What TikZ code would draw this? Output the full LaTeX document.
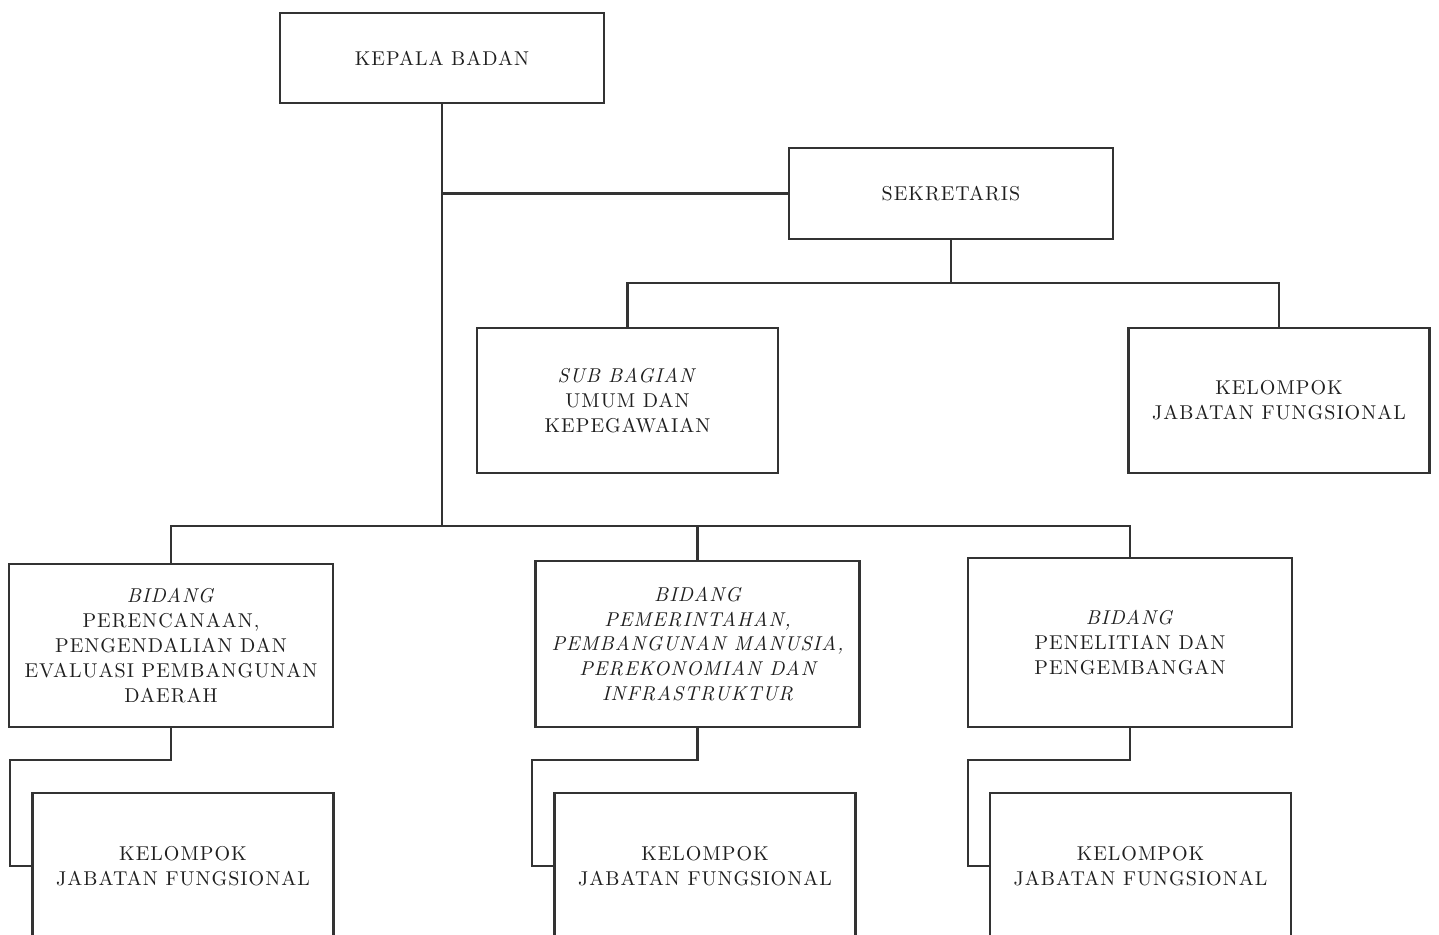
\documentclass[tikz,border=0pt]{standalone}
\usepackage{fontspec}
\setmainfont{lmroman10-regular.otf}[ItalicFont=lmroman10-italic.otf, LetterSpace=5]
\tikzset{
  unit/.style={draw=black!80, line width=1.3pt, align=center, inner sep=0pt,
    outer sep=0pt, text=black!88, font=\fontsize{11.4}{14.2}\selectfont},
  wide/.style={unit, minimum width=6.48cm},
  narrow/.style={unit, minimum width=6.02cm},
  link/.style={draw=black!80, line width=1.3pt}
}
\begin{document}
\begin{tikzpicture}[x=0.02cm, y=-0.02cm]
    \useasboundingbox (0,0) rectangle (1439,934);
    \clip (0,0) rectangle (1439,934);
    % head and secretary
    \node[wide, minimum height=1.8cm] (kepala) at (442,58) {KEPALA BADAN};
    \node[wide, minimum height=1.82cm] (sek) at (951,193.5) {SEKRETARIS};
    \node[narrow, minimum height=2.9cm] (sub) at (627.5,400.5)
        {\textit{SUB BAGIAN}\\UMUM DAN\\KEPEGAWAIAN};
    \node[narrow, minimum height=2.9cm] (kjfS) at (1279,400.5)
        {KELOMPOK\\JABATAN FUNGSIONAL};
    % bidang
    \node[wide, minimum height=3.26cm] (bidA) at (171,645.5)
        {\textit{BIDANG}\\PERENCANAAN,\\PENGENDALIAN DAN\\EVALUASI PEMBANGUNAN\\DAERAH};
    \node[wide, minimum height=3.32cm, font=\fontsize{11.4}{14.2}\selectfont\itshape] (bidB) at (697.5,644)
        {BIDANG\\PEMERINTAHAN,\\PEMBANGUNAN MANUSIA,\\PEREKONOMIAN DAN\\INFRASTRUKTUR};
    \node[wide, minimum height=3.38cm] (bidC) at (1130,642.5)
        {\textit{BIDANG}\\PENELITIAN DAN\\PENGEMBANGAN};
    % kelompok jabatan fungsional under each bidang
    \node[narrow, minimum height=2.92cm] (kjfA) at (183,866) {KELOMPOK\\JABATAN FUNGSIONAL};
    \node[narrow, minimum height=2.92cm] (kjfB) at (705,866) {KELOMPOK\\JABATAN FUNGSIONAL};
    \node[narrow, minimum height=2.92cm] (kjfC) at (1140.5,866) {KELOMPOK\\JABATAN FUNGSIONAL};
    % bend points
    \coordinate (bus) at (442,526);
    \coordinate (sbus) at (951,283);
    \coordinate (bendA) at (10,760);
    \coordinate (bendB) at (532,760);
    \coordinate (bendC) at (968,760);
    % lines
    \draw[link] (kepala.south) |- (sek.west);
    \draw[link] (kepala.south) -- (bus);
    \draw[link] (sek.south) -- (sbus);
    \draw[link] (sub.north) |- (sbus) -| (kjfS.north);
    \draw[link] (bidA.north) |- (bus) -| (bidC.north);
    \draw[link] (bidB.north) -- (bidB.north |- bus);
    \draw[link] (bidA.south) |- (bendA) |- (kjfA.west);
    \draw[link] (bidB.south) |- (bendB) |- (kjfB.west);
    \draw[link] (bidC.south) |- (bendC) |- (kjfC.west);
\end{tikzpicture}
\end{document}
